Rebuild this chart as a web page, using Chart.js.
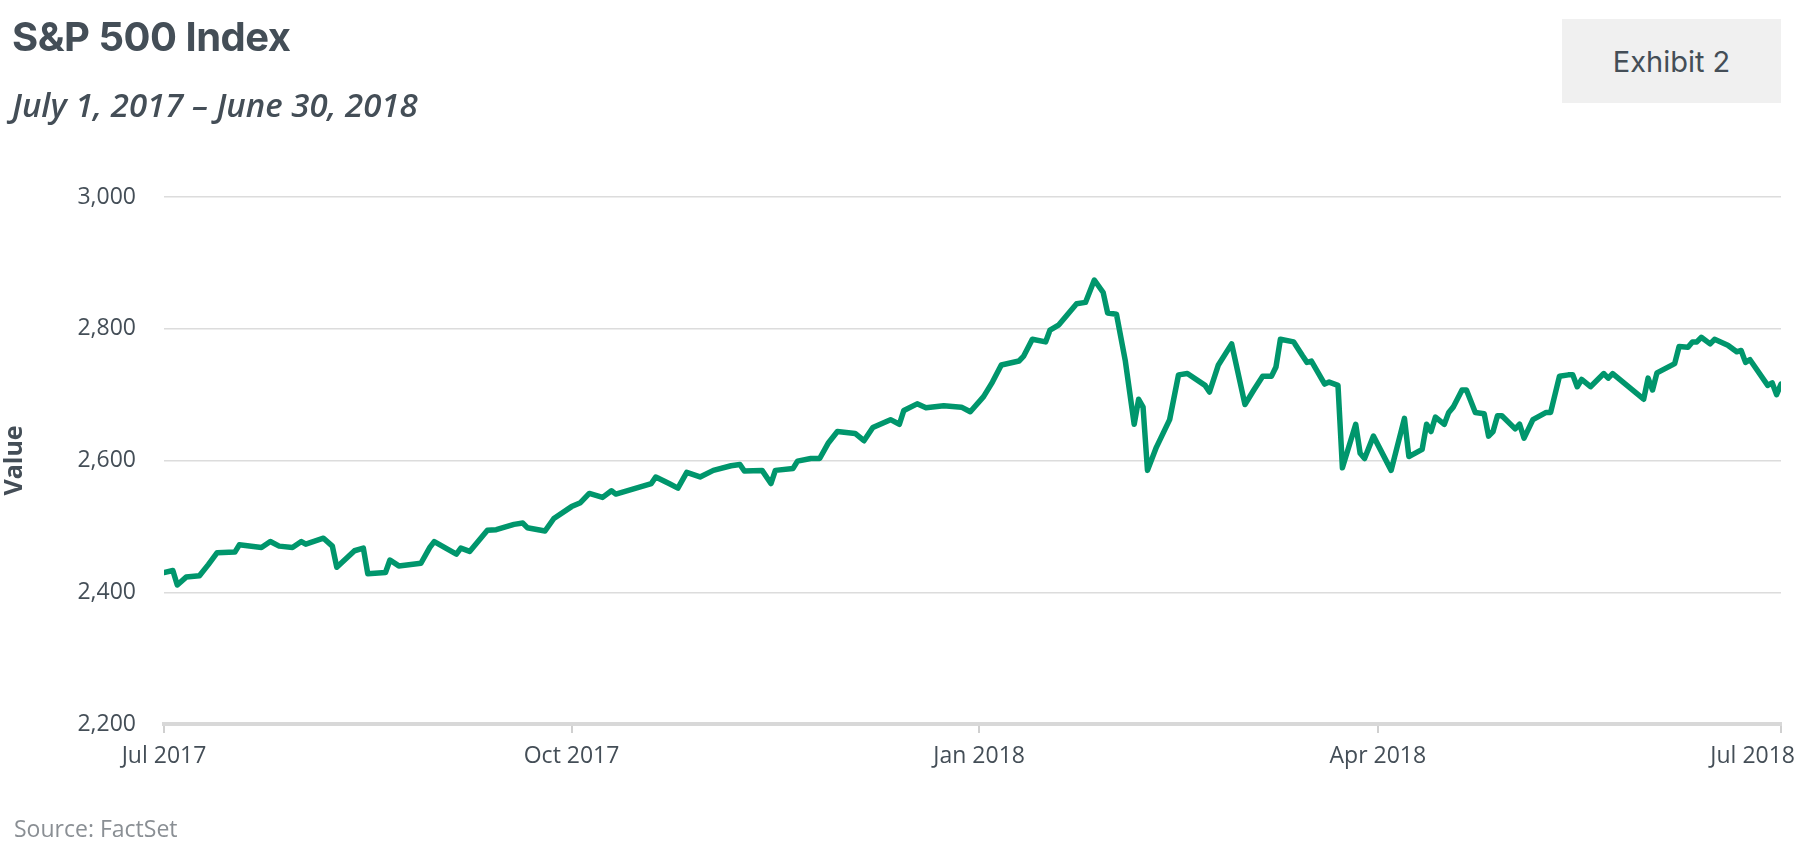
<!DOCTYPE html>
<html><head><meta charset="utf-8">
<script src="https://cdn.jsdelivr.net/npm/chart.js@4"></script>
<style>
html,body{margin:0;padding:0;background:#fff;width:1798px;height:857px;overflow:hidden;font-family:"Open Sans",sans-serif;color:#444e57}
#t{position:absolute;left:12px;top:12px;font:700 40px Inter,sans-serif;letter-spacing:-0.5px;color:#444e57}
#s{position:absolute;left:12px;top:82px;font:italic 600 33px "Open Sans",sans-serif;color:#444e57}
#e{position:absolute;left:1562px;top:19px;width:219px;height:84px;background:#f0f0f0;font:400 29px Inter,sans-serif;color:#444e57;display:flex;align-items:center;justify-content:center}
#src{position:absolute;left:14px;top:812px;font:400 23px "Open Sans",sans-serif;color:#8a8f94}
#w{position:absolute;left:0;top:0;width:1798px;height:857px}
</style></head><body>
<div id="w"><canvas id="c" width="1798" height="857"></canvas></div>
<div id="t">S&amp;P 500 Index</div>
<div id="s">July 1, 2017 – June 30, 2018</div>
<div id="e">Exhibit 2</div>
<div id="src">Source: FactSet</div>
<script>
const days=[0,2,3,5,8,10,12,16,17,22,24,26,29,31,32,36,38,39,43,45,46,50,51,53,58,60,61,66,67,69,73,75,79,81,82,86,88,92,94,96,99,101,102,110,111,114,116,118,121,124,128,130,131,135,137,138,142,143,146,148,150,152,156,158,160,164,166,167,170,172,176,180,182,185,187,189,193,194,196,199,200,202,206,208,210,212,213,215,217,219,220,221,222,224,227,229,231,235,236,238,241,244,246,248,250,251,252,255,257,258,259,262,263,265,266,269,270,271,273,277,280,281,284,285,286,287,289,290,291,293,294,296,298,299,300,301,302,305,306,307,309,312,313,315,317,318,319,320,322,325,326,327,334,335,336,337,341,342,344,345,346,347,349,350,353,355,356,357,358,362,363,364,365];
const values=[2430,2433,2411,2423,2425,2442,2460,2461,2472,2468,2477,2470,2468,2477,2473,2482,2470,2438,2463,2467,2428,2430,2449,2440,2444,2468,2477,2458,2467,2462,2494,2495,2503,2505,2498,2493,2512,2530,2536,2550,2544,2554,2549,2565,2575,2565,2558,2582,2575,2585,2592,2594,2584,2585,2565,2585,2588,2599,2603,2603,2627,2644,2641,2630,2650,2662,2655,2676,2686,2680,2683,2681,2674,2697,2719,2745,2751,2758,2784,2780,2798,2806,2838,2840,2874,2855,2824,2822,2751,2655,2693,2681,2585,2620,2662,2730,2732,2714,2704,2745,2777,2685,2707,2728,2728,2742,2784,2780,2759,2749,2751,2716,2719,2714,2589,2655,2611,2603,2637,2585,2664,2606,2617,2655,2644,2666,2655,2673,2681,2707,2707,2673,2671,2637,2644,2668,2668,2648,2655,2634,2662,2673,2673,2728,2730,2730,2712,2723,2712,2732,2725,2732,2693,2725,2707,2733,2747,2773,2772,2780,2780,2787,2777,2784,2775,2765,2767,2749,2753,2714,2718,2700,2716];
const tickDays=[0,92,184,274,365];
const tickLabels=['Jul 2017','Oct 2017','Jan 2018','Apr 2018','Jul 2018'];
const yTicks=[2200,2400,2600,2800,3000];
const txt='#444e57';
const xLabels={id:'xl',afterDraw(ch){const x=ch.scales.x,c=ch.ctx;c.save();c.font='400 23px "Open Sans"';c.fillStyle=txt;c.textBaseline='top';
tickDays.forEach((d,i)=>{let p=x.getPixelForValue(d);const w=c.measureText(tickLabels[i]).width;let l=p-w/2;if(l+w>1795)l=1795-w;c.fillText(tickLabels[i],l,745);});c.restore();}};
new Chart(document.getElementById('c'),{type:'line',
data:{datasets:[{data:days.map((d,i)=>({x:d,y:values[i]})),borderColor:'#00966c',borderWidth:5.5,pointRadius:0,tension:0,borderJoinStyle:'round',borderCapStyle:'round'}]},
options:{responsive:false,animation:false,devicePixelRatio:1,
layout:{padding:{top:197,right:17,left:0,bottom:0}},
plugins:{legend:{display:false},tooltip:{enabled:false}},
scales:{
x:{type:'linear',min:0,max:365,afterBuildTicks:s=>{s.ticks=tickDays.map(v=>({value:v}));},
afterFit:s=>{s.height=133;},
ticks:{display:false},grid:{display:true,drawOnChartArea:false,drawTicks:true,tickLength:9,color:'#d0d0d0',lineWidth:2},
border:{display:true,color:'#d8d8d8',width:4}},
y:{min:2200,max:3000,afterBuildTicks:s=>{s.ticks=yTicks.map(v=>({value:v}));},
afterFit:s=>{s.width=164;},
ticks:{padding:28,color:txt,font:{family:'Open Sans',size:23},callback:v=>v.toLocaleString('en-US')},
grid:{color:'#dcdcdc',lineWidth:1.5,drawTicks:false},border:{display:false},
title:{display:true,text:'Value',color:txt,font:{family:'Open Sans',size:25,weight:'bold'},padding:0}}
}},plugins:[xLabels]});
</script></body></html>
